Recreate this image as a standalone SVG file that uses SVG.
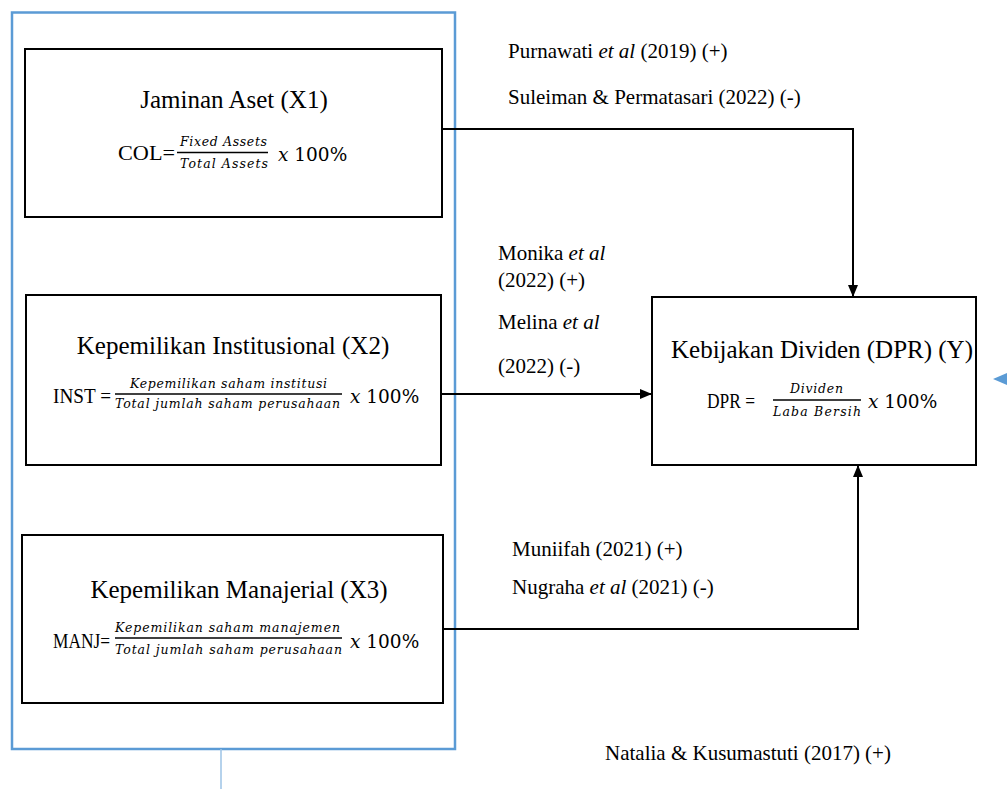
<svg xmlns="http://www.w3.org/2000/svg" width="1007" height="789" viewBox="0 0 1007 789">
<style>
.bg{fill:#fff}
.frame{fill:none;stroke:#5B9BD5;stroke-width:2.5}
.box{fill:#fff;stroke:#000;stroke-width:2}
.title{font-family:"Liberation Serif",serif;font-size:25px;text-anchor:middle;fill:#000}
.cite{font-family:"Liberation Serif",serif;font-size:21px;fill:#000}
.lhs{font-family:"Liberation Serif",serif;font-size:21px;fill:#000}
.frac{font-family:"DejaVu Serif",serif;font-style:italic;font-size:12.5px;fill:#000}
.mult{font-family:"DejaVu Serif",serif;font-size:18.5px;fill:#000}
.bar{stroke:#000;stroke-width:1.3}
.conn{fill:none;stroke:#000;stroke-width:2}
</style>
<defs>
<marker id="ah" markerWidth="12" markerHeight="10" refX="12" refY="5" orient="auto" markerUnits="userSpaceOnUse">
<path d="M0,0 L12,5 L0,10 Z" fill="#000"/>
</marker>
</defs>
<rect class="bg" x="0" y="0" width="1007" height="789"/>
<g id="frame">
<rect class="frame" x="12" y="12.5" width="443" height="736.5"/>
<line x1="221" y1="749" x2="221" y2="789" stroke="#9DC3E6" stroke-width="1.5"/>
</g>
<g id="x1">
<rect class="box" x="25" y="49" width="417" height="168"/>
<text class="title" x="234" y="108">Jaminan Aset (X1)</text>
<text class="lhs" x="118" y="160" textLength="57" lengthAdjust="spacingAndGlyphs">COL=</text>
<text class="frac" x="180" y="146" textLength="87" lengthAdjust="spacing">Fixed Assets</text>
<line class="bar" x1="177" y1="152.5" x2="268" y2="152.5"/>
<text class="frac" x="180" y="168" textLength="88" lengthAdjust="spacing">Total Assets</text>
<text class="mult" x="278" y="161"><tspan font-style="italic">x</tspan> 100%</text>
</g>
<g id="x2">
<rect class="box" x="26" y="295" width="415" height="170"/>
<text class="title" x="233" y="354">Kepemilikan Institusional (X2)</text>
<text class="lhs" x="53" y="403" textLength="58" lengthAdjust="spacingAndGlyphs">INST =</text>
<text class="frac" x="130" y="388" textLength="197" lengthAdjust="spacing">Kepemilikan saham institusi</text>
<line class="bar" x1="115" y1="394" x2="342" y2="394"/>
<text class="frac" x="115" y="408" textLength="225" lengthAdjust="spacing">Total jumlah saham perusahaan</text>
<text class="mult" x="350" y="403"><tspan font-style="italic">x</tspan> 100%</text>
</g>
<g id="x3">
<rect class="box" x="22" y="535" width="421" height="168"/>
<text class="title" x="239" y="598">Kepemilikan Manajerial (X3)</text>
<text class="lhs" x="53" y="648" textLength="57" lengthAdjust="spacingAndGlyphs">MANJ=</text>
<text class="frac" x="115" y="632" textLength="225" lengthAdjust="spacing">Kepemilikan saham manajemen</text>
<line class="bar" x1="115" y1="638" x2="342" y2="638"/>
<text class="frac" x="115" y="654" textLength="227" lengthAdjust="spacing">Total jumlah saham perusahaan</text>
<text class="mult" x="350" y="648"><tspan font-style="italic">x</tspan> 100%</text>
</g>
<g id="y">
<rect class="box" x="652" y="297" width="324" height="168"/>
<text class="title" x="822" y="358">Kebijakan Dividen (DPR) (Y)</text>
<text class="lhs" x="707" y="408" textLength="48" lengthAdjust="spacingAndGlyphs">DPR =</text>
<text class="frac" x="790" y="393" textLength="53" lengthAdjust="spacing">Dividen</text>
<line class="bar" x1="773" y1="400" x2="861" y2="400"/>
<text class="frac" x="773" y="416" textLength="88" lengthAdjust="spacing">Laba Bersih</text>
<text class="mult" x="868" y="408"><tspan font-style="italic">x</tspan> 100%</text>
</g>
<g id="connectors">
<path class="conn" d="M442,129 H853 V297" marker-end="url(#ah)"/>
<path class="conn" d="M441,394 H652" marker-end="url(#ah)"/>
<path class="conn" d="M443,629 H858 V465" marker-end="url(#ah)"/>
<polygon points="993,379 1007,373 1007,385" fill="#5B9BD5"/>
</g>
<g id="citations">
<text class="cite" x="508" y="58">Purnawati <tspan font-style="italic">et al</tspan> (2019) (+)</text>
<text class="cite" x="508" y="104">Suleiman &amp; Permatasari (2022) (-)</text>
<text class="cite" x="498" y="260">Monika <tspan font-style="italic">et al</tspan></text>
<text class="cite" x="498" y="287">(2022) (+)</text>
<text class="cite" x="498" y="329">Melina <tspan font-style="italic">et al</tspan></text>
<text class="cite" x="498" y="373">(2022) (-)</text>
<text class="cite" x="512" y="556">Muniifah (2021) (+)</text>
<text class="cite" x="512" y="594">Nugraha <tspan font-style="italic">et al</tspan> (2021) (-)</text>
<text class="cite" x="605" y="760">Natalia &amp; Kusumastuti (2017) (+)</text>
</g>
</svg>
